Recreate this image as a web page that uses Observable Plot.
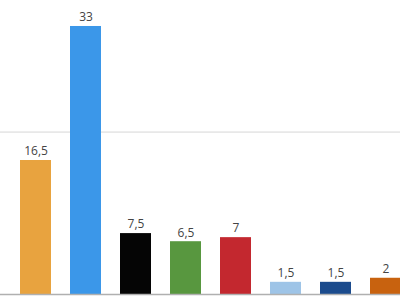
<!DOCTYPE html>
<html>
<head>
<meta charset="utf-8">
<script src="https://cdn.jsdelivr.net/npm/d3@7"></script>
<script src="https://cdn.jsdelivr.net/npm/@observablehq/plot@0.6"></script>
<style>
  html, body { margin: 0; padding: 0; background: #fff; overflow: hidden; }
  svg { overflow: hidden; }
</style>
</head>
<body>
<div id="chart"></div>
<script>
const categories = ["c1", "c2", "c3", "c4", "c5", "c6", "c7", "c8"];
const values = [16.5, 33, 7.5, 6.5, 7, 1.5, 1.5, 2];
const colors = ["#E8A33F", "#3B97E9", "#050505", "#58973F", "#C3282F", "#9EC4E7", "#1B4B8D", "#C8620F"];
const gridTicks = [20];

const data = categories.map((c, i) => ({cat: c, value: values[i], color: colors[i]}));
const fmt = v => String(v).replace(".", ",");

const chart = Plot.plot({
  width: 400,
  height: 300,
  marginTop: 0,
  marginBottom: 6,
  marginLeft: 0,
  marginRight: 0,
  style: {background: "#fff", fontFamily: "Open Sans, sans-serif"},
  x: {domain: categories, range: [10, 410], paddingInner: 0.38, paddingOuter: 0.19, axis: null},
  y: {domain: [0, 36.2], axis: null},
  marks: [
    Plot.ruleY(gridTicks, {stroke: "#d6d6d6", strokeWidth: 1}),
    Plot.barY(data, {x: "cat", y: "value", fill: "color"}),
    Plot.ruleY([0], {stroke: "#b0b0b0", strokeWidth: 1.5}),
    Plot.text(data, {x: "cat", y: "value", text: d => fmt(d.value), dy: -9, fill: "#444", fontSize: 12})
  ]
});
document.getElementById("chart").appendChild(chart);
</script>
</body>
</html>
